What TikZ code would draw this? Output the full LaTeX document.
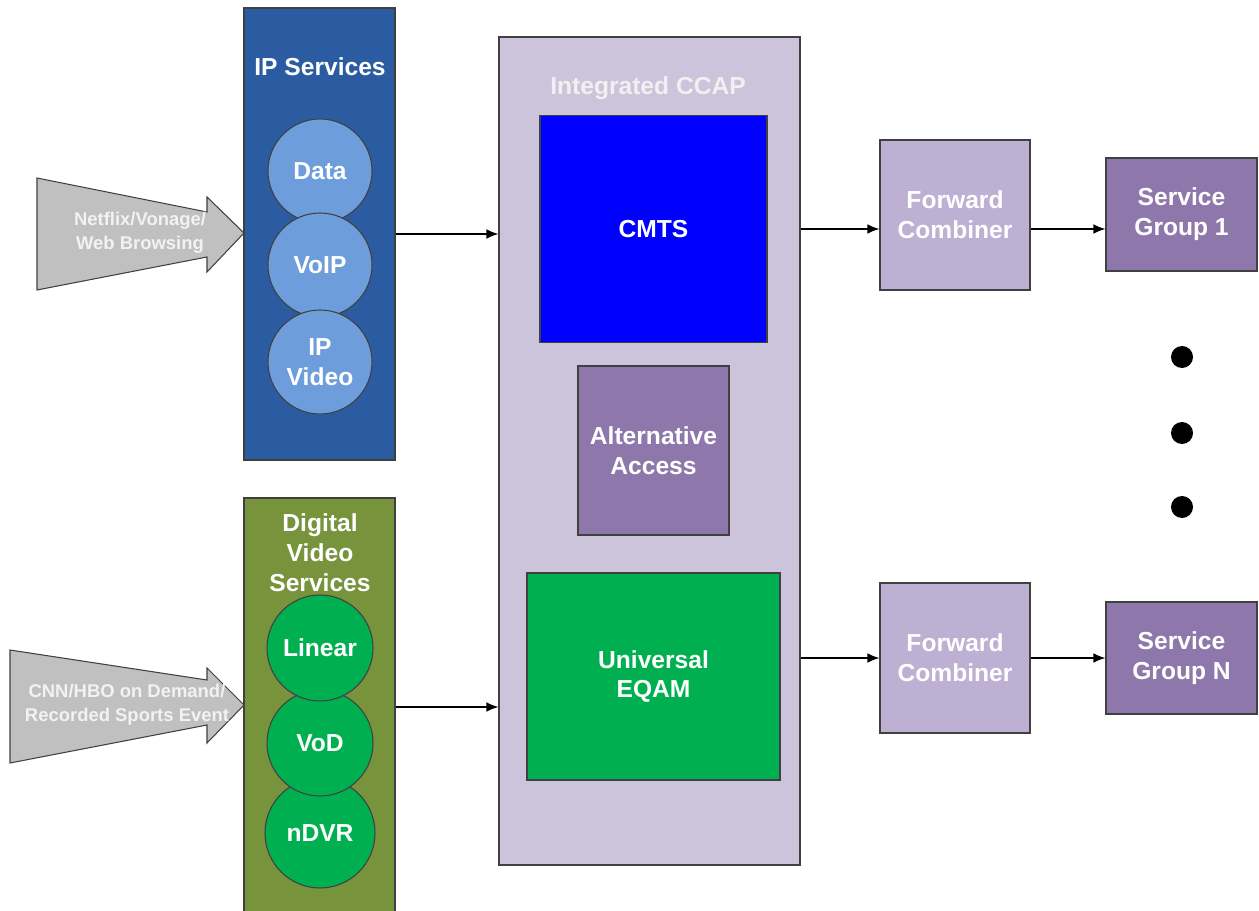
\documentclass[tikz,border=0pt]{standalone}
\usepackage{fontspec}
\setmainfont{Liberation Sans}
\usetikzlibrary{arrows.meta}
\definecolor{ipblue}{HTML}{2B5CA2}
\definecolor{iplight}{HTML}{6E9DDB}
\definecolor{olive}{HTML}{77933C}
\definecolor{vidgreen}{HTML}{00B050}
\definecolor{ccapbg}{HTML}{CCC4DA}
\definecolor{fwdbg}{HTML}{BDB0D3}
\definecolor{sgbg}{HTML}{8E78AB}
\definecolor{feedgray}{HTML}{C0C0C0}
\definecolor{edge}{HTML}{404040}
\tikzset{
  panel/.style={draw=edge, line width=0.6pt, inner sep=0pt},
  txt/.style={text=white, font=\fontsize{14}{17}\selectfont\bfseries, align=center},
  svc/.style={circle, draw=edge, line width=0.6pt, inner sep=0pt, minimum size=20.8mm, txt},
  feed/.style={fill=feedgray, draw=edge, line width=0.6pt},
  feedtxt/.style={text=white!95!black, font=\fontsize{10.5}{13.5}\selectfont\bfseries, align=center},
  dot/.style={circle, fill=black, inner sep=0pt, minimum size=4.4mm},
  arr/.style={-{Latex[length=2.4mm,width=1.9mm]}, line width=0.7pt}
}
\begin{document}
\begin{tikzpicture}[x=0.2mm, y=-0.2mm]
			%%%%% START %%%%%
			\useasboundingbox (0,0) rectangle (1259,911);
			
			% IP services
			\node[panel, fill=ipblue, minimum width=30.2mm, minimum height=90.4mm] (ipbox) at (319.5,234) {};
			\node[txt] (iptitle) at (320,67) {IP Services};
			\node[svc, fill=iplight] (data) at (320,171) {Data};
			\node[svc, fill=iplight] (voip) at (320,265) {VoIP};
			\node[svc, fill=iplight] (ipvideo) at (320,362) {IP\\Video};
			
			% digital video services
			\node[panel, fill=olive, minimum width=30.2mm, minimum height=83.6mm] (dvbox) at (319.5,707) {};
			\node[txt] (dvtitle) at (320,553) {Digital\\Video\\Services};
			\node[svc, fill=vidgreen, minimum size=22mm] (ndvr) at (320,833) {nDVR};
			\node[svc, fill=vidgreen, minimum size=21.2mm] (vod) at (320,743) {VoD};
			\node[svc, fill=vidgreen, minimum size=21.2mm] (linear) at (320,648) {Linear};
			
			% incoming feeds
			\draw[feed] (37,178) -- (207,212) -- (207,197) -- (244,233) -- (207,272) -- (207,257) -- (37,290) -- cycle;
			\node[feedtxt] (netflix) at (140,233) {Netflix/Vonage/\\Web Browsing};
			\draw[feed] (10,650) -- (207,680) -- (207,668) -- (244,705) -- (207,743) -- (207,725) -- (10,763) -- cycle;
			\node[feedtxt] (cnn) at (127,705) {CNN/HBO on Demand/\\Recorded Sports Event};
			
			% integrated CCAP
			\node[panel, fill=ccapbg, minimum width=60.2mm, minimum height=165.6mm] (ccap) at (649.5,451) {};
			\node[txt, text=white!94!black] (ccaptitle) at (648,88) {Integrated CCAP};
			\node[panel, fill=blue, minimum width=45.4mm, minimum height=45.4mm, txt] (cmts) at (653.5,229) {CMTS};
			\node[panel, fill=sgbg, minimum width=30.2mm, minimum height=33.8mm, txt] (altaccess) at (653.5,450.5) {Alternative\\Access};
			\node[panel, fill=vidgreen, minimum width=50.6mm, minimum height=41.4mm, txt] (eqam) at (653.5,676.5) {Universal\\EQAM};
			
			% combiners and service groups
			\node[panel, fill=fwdbg, minimum width=30mm, minimum height=30mm, txt] (fwd1) at (955,215) {Forward\\Combiner};
			\node[panel, fill=sgbg, minimum width=30.2mm, minimum height=22.6mm, txt] (sg1) at (1181.5,214.5) {Service\\Group 1};
			\node[panel, fill=fwdbg, minimum width=30mm, minimum height=30mm, txt] (fwd2) at (955,658) {Forward\\Combiner};
			\node[panel, fill=sgbg, minimum width=30.2mm, minimum height=22.4mm, txt] (sgn) at (1181.5,658) {Service\\Group N};
			
			\node[dot] (dot1) at (1182,357) {};
			\node[dot] (dot2) at (1182,433) {};
			\node[dot] (dot3) at (1182,507) {};
			
			% links
			\draw[arr] (ipbox.east) -- (ipbox.east -| ccap.west);
			\draw[arr] (dvbox.east) -- (dvbox.east -| ccap.west);
			\draw[arr] (cmts -| ccap.east) -- (cmts -| fwd1.west);
			\draw[arr] (cmts -| fwd1.east) -- (cmts -| sg1.west);
			\draw[arr] (fwd2 -| ccap.east) -- (fwd2.west);
			\draw[arr] (fwd2.east) -- (sgn.west);
			
			%%%%% END %%%%%
		\end{tikzpicture}
\end{document}
